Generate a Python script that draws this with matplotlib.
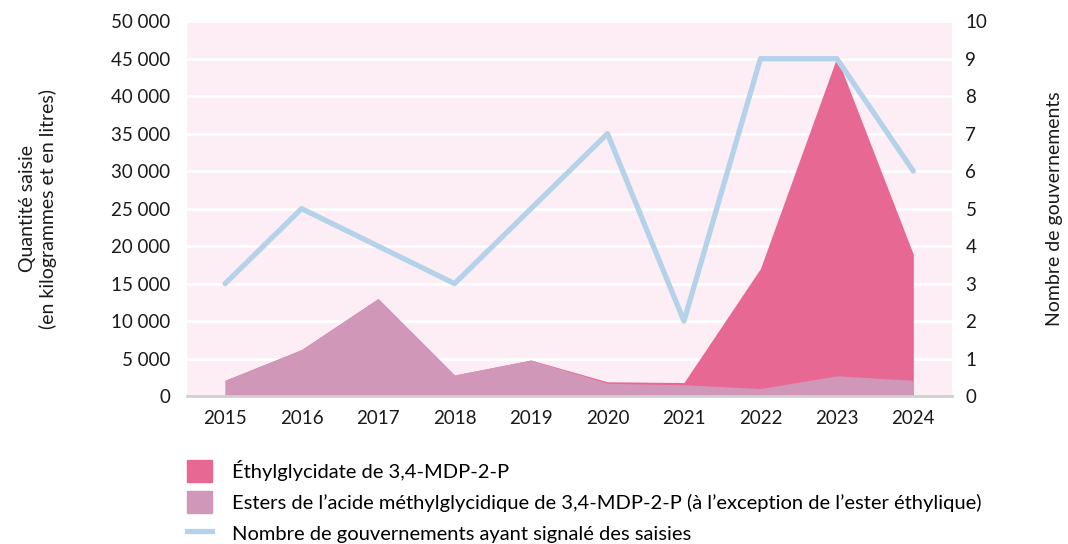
import matplotlib.pyplot as plt
from matplotlib.patches import Patch
from matplotlib.lines import Line2D

plt.rcParams['font.family'] = ['Lato', 'DejaVu Sans']

years = [2015, 2016, 2017, 2018, 2019, 2020, 2021, 2022, 2023, 2024]
# quantities seized (kg / l)
esters = [2100, 6200, 13000, 2800, 4800, 1700, 1500, 1000, 2700, 2100]
ethyl = [0, 0, 0, 0, 0, 200, 300, 16000, 42500, 16800]
governments = [3, 5, 4, 3, 5, 7, 2, 9, 9, 6]

c_ethyl = '#e76893'
c_esters = '#d197b8'
c_line = '#b4d2ea'
c_bg = '#fdeef5'

fig = plt.figure(figsize=(10.68, 5.44), dpi=100)
ax = fig.add_axes([0.175, 0.272, 0.716, 0.689])
ax.set_facecolor(c_bg)

x = list(range(len(years)))
total = [a + b for a, b in zip(esters, ethyl)]
ax.fill_between(x, 0, total, color=c_ethyl, linewidth=0, zorder=2)
ax.fill_between(x, 0, esters, color=c_esters, linewidth=0, zorder=3)

ax.set_xlim(-0.5, 9.5)
ax.set_ylim(0, 50000)
ax.set_yticks(range(0, 50001, 5000))
ax.set_yticklabels([f'{v:,}'.replace(',', ' ') for v in range(0, 50001, 5000)])
ax.set_xticks(x)
ax.set_xticklabels([str(y) for y in years])
ax.grid(axis='y', color='white', linewidth=2, zorder=1)
ax.set_axisbelow(True)
ax.axhline(0, color='#d0d0d0', linewidth=2, zorder=4, clip_on=False)
for s in ax.spines.values():
    s.set_visible(False)
ax.tick_params(axis='both', length=0, labelsize=13.5, colors='#1a1a1a')
ax.tick_params(axis='x', pad=10)
ax.tick_params(axis='y', pad=12)
ax.set_ylabel('Quantité saisie\n(en kilogrammes et en litres)', fontsize=14,
              color='#1a1a1a', linespacing=1.2)
ax.yaxis.set_label_coords(-0.17, 0.5)

ax2 = ax.twinx()
ax2.plot(x, governments, color=c_line, linewidth=3.8, solid_capstyle='round', zorder=5)
ax2.set_ylim(0, 10)
ax2.set_yticks(range(0, 11))
for s in ax2.spines.values():
    s.set_visible(False)
ax2.tick_params(axis='y', length=0, labelsize=13.5, colors='#1a1a1a', pad=10)
ax2.set_ylabel('Nombre de gouvernements', fontsize=14, color='#1a1a1a')
ax2.yaxis.set_label_coords(1.124, 0.5)

handles = [
    Patch(color=c_ethyl),
    Patch(color=c_esters),
    Line2D([0], [0], color=c_line, linewidth=3.8),
]
labels = [
    'Éthylglycidate de 3,4-MDP-2-P',
    'Esters de l’acide méthylglycidique de 3,4-MDP-2-P (à l’exception de l’ester éthylique)',
    'Nombre de gouvernements ayant signalé des saisies',
]
fig.legend(handles, labels, loc='upper left', bbox_to_anchor=(0.168, 0.17),
           frameon=False, fontsize=14.5, handlelength=1.2, handleheight=1.3,
           handletextpad=1.0, labelspacing=0.45, borderaxespad=0)

fig.savefig('out.png', dpi=100)
